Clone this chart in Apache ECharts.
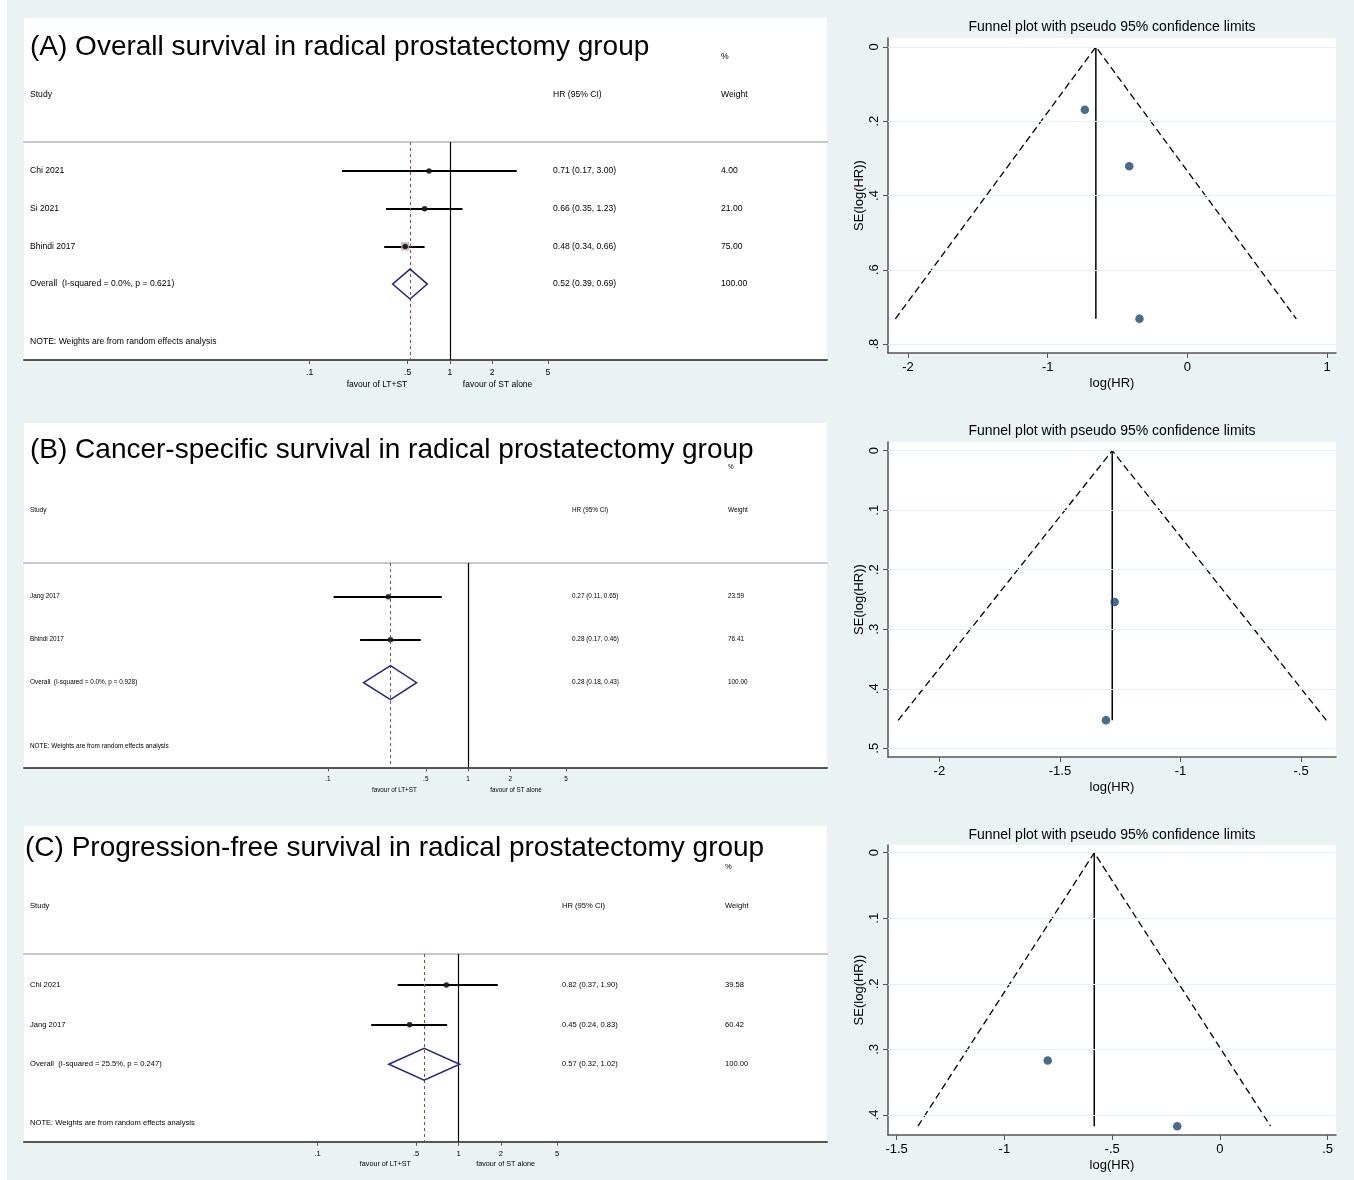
<!DOCTYPE html>
<html><head><meta charset="utf-8">
<script src="https://cdn.jsdelivr.net/npm/echarts@6/dist/echarts.min.js"></script>
<style>html,body{margin:0;padding:0;background:#eaf2f3;} #c{width:1354px;height:1180px;}</style>
</head><body><div id="c"></div>
<script>
// ---------------- data ----------------
const forestTicks = [0.1, 0.5, 1, 2, 5];
const forestTickLabels = ['.1', '.5', '1', '2', '5'];

const osStudies = ['Chi 2021', 'Si 2021', 'Bhindi 2017'];
const osHR = [0.71, 0.66, 0.48];
const osLow = [0.17, 0.35, 0.34];
const osHigh = [3.00, 1.23, 0.66];
const osWeight = [4.00, 21.00, 75.00];
const osOverall = [0.52, 0.39, 0.69];
const osOverallLabel = 'Overall  (I-squared = 0.0%, p = 0.621)';

const cssStudies = ['Jang 2017', 'Bhindi 2017'];
const cssHR = [0.27, 0.28];
const cssLow = [0.11, 0.17];
const cssHigh = [0.65, 0.46];
const cssWeight = [23.59, 76.41];
const cssOverall = [0.28, 0.18, 0.43];
const cssOverallLabel = 'Overall  (I-squared = 0.0%, p = 0.928)';

const pfsStudies = ['Chi 2021', 'Jang 2017'];
const pfsHR = [0.82, 0.45];
const pfsLow = [0.37, 0.24];
const pfsHigh = [1.90, 0.83];
const pfsWeight = [39.58, 60.42];
const pfsOverall = [0.57, 0.32, 1.02];
const pfsOverallLabel = 'Overall  (I-squared = 25.5%, p = 0.247)';

const osFunnelLogHR = [-0.343, -0.416, -0.734];
const osFunnelSE = [0.732, 0.321, 0.169];
const osFunnelPooled = -0.655;
const osFunnelLimits = [[-2.090, 0.732], [-0.655, 0], [0.780, 0.732]];
const osFunnelXTicks = [-2, -1, 0, 1];
const osFunnelYTicks = [0, 0.2, 0.4, 0.6, 0.8];

const cssFunnelLogHR = [-1.309, -1.273];
const cssFunnelSE = [0.453, 0.254];
const cssFunnelPooled = -1.283;
const cssFunnelLimits = [[-2.171, 0.453], [-1.283, 0], [-0.395, 0.453]];
const cssFunnelXTicks = [-2, -1.5, -1, -0.5];
const cssFunnelYTicks = [0, 0.1, 0.2, 0.3, 0.4, 0.5];

const pfsFunnelLogHR = [-0.198, -0.799];
const pfsFunnelSE = [0.417, 0.317];
const pfsFunnelPooled = -0.583;
const pfsFunnelLimits = [[-1.401, 0.417], [-0.583, 0], [0.235, 0.417]];
const pfsFunnelXTicks = [-1.5, -1, -0.5, 0, 0.5];
const pfsFunnelYTicks = [0, 0.1, 0.2, 0.3, 0.4];

const titles = [
  '(A) Overall survival in radical prostatectomy group',
  '(B) Cancer-specific survival in radical prostatectomy group',
  '(C) Progression-free survival in radical prostatectomy group'
];
const funnelTitle = 'Funnel plot with pseudo 95% confidence limits';
const noteText = 'NOTE: Weights are from random effects analysis';
const favourLeft = 'favour of LT+ST';
const favourRight = 'favour of ST alone';

// ---------------- layout ----------------
const FONT = '"Liberation Sans", Arial, Helvetica, sans-serif';
const forestLayouts = [
  {titleX:30, titleY:47, panelTop:18, sepY:142, axisY:360, rowY0:171, rowStep:37.7, one:449.9, ppl:60.9, font:8.6, favFont:8.5,
   pctY:57, headY:95, hrColX:553, wColX:721, noteY:342, favY:385, favL:377, favR:497.6, diamondH:15, boxScale:0.98, tickMargin:8},
  {titleX:30, titleY:450, panelTop:423, sepY:563, axisY:767.3, rowY0:596.7, rowStep:43, one:468, ppl:60.9, font:6.4, favFont:6.3,
   pctY:467, headY:510, hrColX:572, wColX:728, noteY:746.7, favY:790.7, favL:394.4, favR:516, diamondH:17, boxScale:0.5, tickMargin:8.5},
  {titleX:25, titleY:848, panelTop:826, sepY:954, axisY:1141.7, rowY0:985, rowStep:39.65, one:458.5, ppl:61.2, font:7.6, favFont:7.2,
   pctY:867, headY:906, hrColX:562, wColX:725, noteY:1123.3, favY:1164, favL:385.4, favR:505.6, diamondH:16, boxScale:0.55, tickMargin:8}
];
const funnelLayouts = [
  {top:38, bottom:353, xMin:-2.143, xMax:1.064, yMin:-0.024, yMax:0.824, titleY:27},
  {top:442, bottom:757, xMin:-2.213, xMax:-0.355, yMin:-0.0146, yMax:0.5146, titleY:431},
  {top:845, bottom:1135, xMin:-1.540, xMax:0.5386, yMin:-0.0118, yMax:0.4305, titleY:835}
];

const forestData = [
  {studies:osStudies, hr:osHR, low:osLow, high:osHigh, weight:osWeight, overall:osOverall, overallLabel:osOverallLabel},
  {studies:cssStudies, hr:cssHR, low:cssLow, high:cssHigh, weight:cssWeight, overall:cssOverall, overallLabel:cssOverallLabel},
  {studies:pfsStudies, hr:pfsHR, low:pfsLow, high:pfsHigh, weight:pfsWeight, overall:pfsOverall, overallLabel:pfsOverallLabel}
];
const funnelData = [
  {x:osFunnelLogHR, y:osFunnelSE, pooled:osFunnelPooled, limits:osFunnelLimits, xTicks:osFunnelXTicks, yTicks:osFunnelYTicks},
  {x:cssFunnelLogHR, y:cssFunnelSE, pooled:cssFunnelPooled, limits:cssFunnelLimits, xTicks:cssFunnelXTicks, yTicks:cssFunnelYTicks},
  {x:pfsFunnelLogHR, y:pfsFunnelSE, pooled:pfsFunnelPooled, limits:pfsFunnelLimits, xTicks:pfsFunnelXTicks, yTicks:pfsFunnelYTicks}
];

function forestLabel(v) {
  let best = 0, bd = Infinity;
  forestTicks.forEach((t, i) => { const d = Math.abs(Math.log(t) - Math.log(v)); if (d < bd) { bd = d; best = i; } });
  return forestTickLabels[best];
}
function stataNum(v) {
  const s = (Math.round(v * 1000) / 1000).toString();
  return s.replace(/^(-?)0\./, '$1.');
}
function ci(h, l, u) { return h.toFixed(2) + ' (' + l.toFixed(2) + ', ' + u.toFixed(2) + ')'; }

const chart = echarts.init(document.getElementById('c'), null, {renderer: 'canvas'});
const option = {backgroundColor: '#eaf2f3', animation: false, grid: [], xAxis: [], yAxis: [], series: []};
const forestRefs = [];

function addForest(L, d) {
  const gi = option.grid.length;
  const xMin = Math.exp((24 - L.one) / L.ppl), xMax = Math.exp((827 - L.one) / L.ppl);
  const yMin = (L.sepY - L.rowY0) / L.rowStep, yMax = (L.axisY - L.rowY0) / L.rowStep;
  option.grid.push({left: 24, top: L.sepY, width: 803, height: L.axisY - L.sepY});
  const xi = option.xAxis.length;
  option.xAxis.push({gridIndex: gi, type: 'log', logBase: 10, min: xMin, max: xMax, position: 'bottom',
    axisLine: {show: true, onZero: false, lineStyle: {color: '#555555', width: 2}},
    axisTick: {show: true, customValues: forestTicks, length: 4, lineStyle: {color: '#555555', width: 1}},
    axisLabel: {show: true, customValues: forestTicks, formatter: forestLabel, fontSize: L.font, color: '#000', margin: L.tickMargin, fontFamily: FONT},
    splitLine: {show: false}, minorTick: {show: false}});
  option.xAxis.push({gridIndex: gi, type: 'log', logBase: 10, min: xMin, max: xMax, position: 'top',
    axisLine: {show: true, onZero: false, lineStyle: {color: '#c8c8c8', width: 2}},
    axisTick: {show: false}, axisLabel: {show: false}, splitLine: {show: false}});
  const yi = option.yAxis.length;
  option.yAxis.push({gridIndex: gi, type: 'value', inverse: true, min: yMin, max: yMax, show: false, splitLine: {show: false}});
  const n = d.studies.length;
  option.series.push({type: 'lines', coordinateSystem: 'cartesian2d', xAxisIndex: xi, yAxisIndex: yi, silent: true,
    lineStyle: {color: '#000', width: 2, opacity: 1, curveness: 0},
    data: d.studies.map((s, k) => ({coords: [[d.low[k], k], [d.high[k], k]]}))});
  option.series.push({type: 'scatter', xAxisIndex: xi, yAxisIndex: yi, symbol: 'rect', silent: true,
    symbolSize: v => L.boxScale * Math.sqrt(v[2]), itemStyle: {color: '#b4b4b4'},
    data: d.studies.map((s, k) => [d.hr[k], k, d.weight[k]])});
  option.series.push({type: 'scatter', xAxisIndex: xi, yAxisIndex: yi, symbol: 'circle', symbolSize: 5.5, silent: true,
    itemStyle: {color: '#000'}, z: 4,
    data: d.hr.map((h, k) => [h, k]),
    markLine: {silent: true, symbol: 'none', label: {show: false}, animation: false, data: [
      {xAxis: 1, lineStyle: {color: '#000', width: 1.2, type: 'solid'}},
      {xAxis: d.overall[0], lineStyle: {color: '#b83a3a', width: 1, type: [3, 3]}}
    ]}});
  option.series.push({type: 'custom', xAxisIndex: xi, yAxisIndex: yi, silent: true, z: 5,
    data: [[d.overall[0], d.overall[1], d.overall[2], n]],
    encode: {x: [0, 1, 2], y: 3},
    renderItem: (p, api) => {
      const c = api.coord([api.value(0), api.value(3)]);
      const l = api.coord([api.value(1), api.value(3)]);
      const r = api.coord([api.value(2), api.value(3)]);
      const h = L.diamondH;
      return {type: 'polygon', shape: {points: [[l[0], c[1]], [c[0], c[1] - h], [r[0], c[1]], [c[0], c[1] + h]]},
        style: {fill: 'none', stroke: '#232a80', lineWidth: 1.5}};
    }});
  forestRefs.push({L, d, yi});
}

function addFunnel(L, d) {
  const gi = option.grid.length;
  option.grid.push({left: 888, top: L.top, width: 448, height: L.bottom - L.top, show: true, backgroundColor: '#ffffff', borderWidth: 0});
  const xi = option.xAxis.length;
  option.xAxis.push({gridIndex: gi, type: 'value', min: L.xMin, max: L.xMax,
    name: 'log(HR)', nameLocation: 'middle', nameGap: 24, nameTextStyle: {fontSize: 13, color: '#000', fontFamily: FONT},
    axisLine: {onZero: false, lineStyle: {color: '#555555', width: 1.5}},
    axisTick: {customValues: d.xTicks, length: 5, lineStyle: {color: '#555555', width: 1}},
    axisLabel: {customValues: d.xTicks, formatter: stataNum, fontSize: 13, color: '#000', margin: 8, fontFamily: FONT},
    splitLine: {show: false}});
  const yi = option.yAxis.length;
  option.yAxis.push({gridIndex: gi, type: 'value', inverse: true, min: L.yMin, max: L.yMax,
    name: 'SE(log(HR))', nameLocation: 'middle', nameGap: 22, nameTextStyle: {fontSize: 13, color: '#000', fontFamily: FONT},
    axisLine: {onZero: false, lineStyle: {color: '#555555', width: 1.5}},
    axisTick: {customValues: d.yTicks, length: 5, lineStyle: {color: '#555555', width: 1}},
    axisLabel: {customValues: d.yTicks, formatter: stataNum, fontSize: 13, color: '#000', margin: 7, rotate: 90, fontFamily: FONT},
    splitLine: {show: false}});
  option.series.push({type: 'scatter', xAxisIndex: xi, yAxisIndex: yi, data: [], silent: true, z: 1,
    markLine: {silent: true, symbol: 'none', label: {show: false}, animation: false,
      lineStyle: {color: '#e6eff1', width: 1.2, type: 'solid'},
      data: d.yTicks.map(v => ({yAxis: v}))}});
  option.series.push({type: 'line', xAxisIndex: xi, yAxisIndex: yi, silent: true, symbol: 'none', z: 3,
    lineStyle: {color: '#000', width: 1.3, type: [7, 4]}, data: d.limits});
  option.series.push({type: 'line', xAxisIndex: xi, yAxisIndex: yi, silent: true, symbol: 'none', z: 3,
    lineStyle: {color: '#000', width: 1.5, type: 'solid'}, data: [[d.pooled, 0], [d.pooled, d.limits[0][1]]]});
  option.series.push({type: 'scatter', xAxisIndex: xi, yAxisIndex: yi, silent: true, symbol: 'circle', symbolSize: 8.5, z: 4,
    itemStyle: {color: '#1a476f'}, data: d.x.map((v, k) => [v, d.y[k]])});
}

for (let i = 0; i < 3; i++) { addForest(forestLayouts[i], forestData[i]); addFunnel(funnelLayouts[i], funnelData[i]); }
chart.setOption(option);

// ---------------- texts (rows placed through the y scales) ----------------
const graphics = [];
function txt(x, y, text, size, align) {
  graphics.push({type: 'text', x: x, y: y, silent: true, z: 10,
    style: {text: text, fill: '#000', font: size + 'px ' + FONT, align: align || 'left', verticalAlign: 'middle'}});
}
graphics.push({type: 'rect', shape: {x: 0, y: 0, width: 7, height: 1180}, style: {fill: '#ffffff'}, z: -1, silent: true});
forestRefs.forEach((ref, i) => {
  const L = ref.L, d = ref.d;
  graphics.push({type: 'rect', shape: {x: 24, y: L.panelTop, width: 803, height: L.axisY - L.panelTop}, style: {fill: '#ffffff'}, z: -1, silent: true});
  txt(L.titleX, L.titleY, titles[i], 28, 'left');
  txt(L.wColX, L.pctY, '%', L.font, 'left');
  txt(30, L.headY, 'Study', L.font, 'left');
  txt(L.hrColX, L.headY, 'HR (95% CI)', L.font, 'left');
  txt(L.wColX, L.headY, 'Weight', L.font, 'left');
  d.studies.forEach((s, k) => {
    const y = chart.convertToPixel({yAxisIndex: ref.yi}, k);
    txt(30, y, s, L.font, 'left');
    txt(L.hrColX, y, ci(d.hr[k], d.low[k], d.high[k]), L.font, 'left');
    txt(L.wColX, y, d.weight[k].toFixed(2), L.font, 'left');
  });
  const yo = chart.convertToPixel({yAxisIndex: ref.yi}, d.studies.length);
  txt(30, yo, d.overallLabel, L.font, 'left');
  txt(L.hrColX, yo, ci(d.overall[0], d.overall[1], d.overall[2]), L.font, 'left');
  txt(L.wColX, yo, (100).toFixed(2), L.font, 'left');
  txt(30, L.noteY, noteText, L.font, 'left');
  txt(L.favL, L.favY, favourLeft, L.favFont, 'center');
  txt(L.favR, L.favY, favourRight, L.favFont, 'center');
});
funnelLayouts.forEach(L => { txt(1112, L.titleY, funnelTitle, 14, 'center'); });
chart.setOption({graphic: graphics});
</script></body></html>
